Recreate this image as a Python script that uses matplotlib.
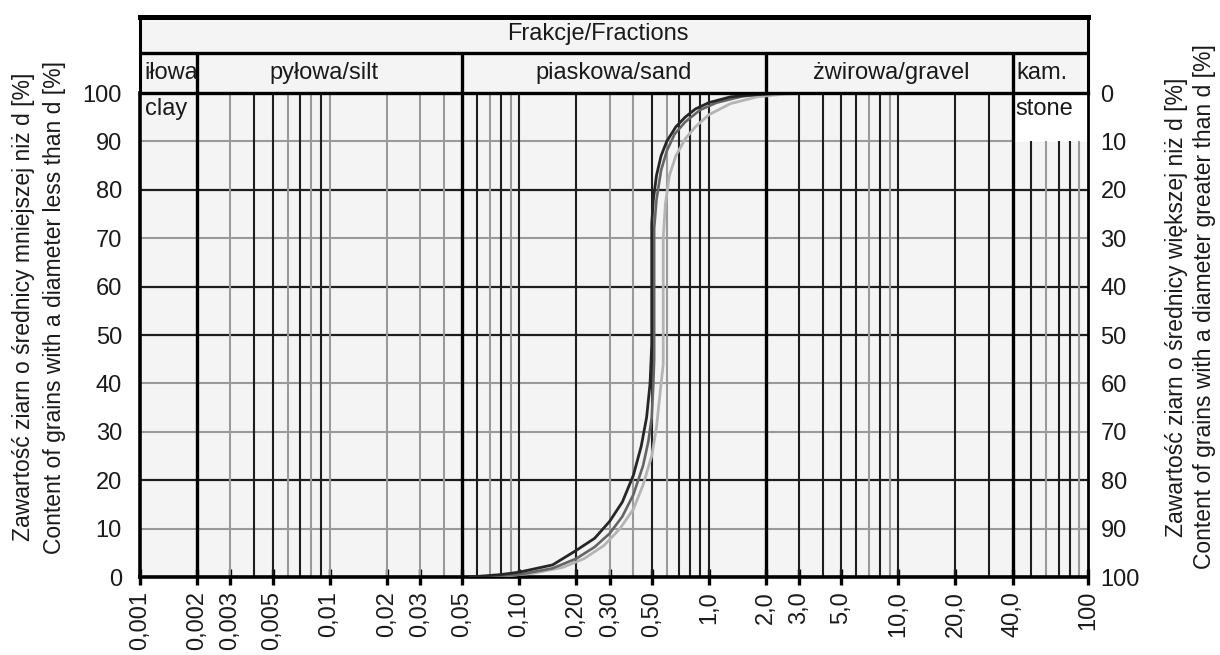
import matplotlib
matplotlib.use('Agg')
import matplotlib.pyplot as plt

plt.rcParams['font.family'] = ['Liberation Sans', 'DejaVu Sans']
plt.rcParams['text.color'] = '#1a1a1a'

# grain size [mm] vs. passing [%], three samples
size_a = [0.055, 0.08, 0.1, 0.15, 0.2, 0.25, 0.3, 0.35, 0.4, 0.44, 0.47, 0.49, 0.5,
          0.5, 0.51, 0.53, 0.56, 0.6, 0.67, 0.75, 0.85, 1.0, 1.3, 1.8, 2.5, 4.5]
pass_a = [0, 0.5, 1.0, 2.5, 5.5, 8, 11.5, 15.5, 21, 27, 33, 40, 48,
          73, 78, 83, 87, 90, 93, 95, 96.7, 98, 99.2, 99.7, 100, 100]

size_b = [0.065, 0.1, 0.15, 0.2, 0.25, 0.3, 0.35, 0.4, 0.45, 0.48, 0.5, 0.51, 0.515,
          0.515, 0.53, 0.56, 0.6, 0.66, 0.75, 0.9, 1.1, 1.5, 2.0, 3.0, 4.5]
pass_b = [0, 0.5, 1.8, 3.8, 6.2, 9, 12.5, 17, 23, 28, 33, 40, 45,
          72, 78, 84, 88, 91.5, 94, 96.5, 98, 99.3, 99.8, 100, 100]

size_c = [0.075, 0.12, 0.17, 0.22, 0.28, 0.34, 0.4, 0.45, 0.5, 0.53, 0.55, 0.575,
          0.575, 0.59, 0.62, 0.67, 0.75, 0.85, 1.0, 1.3, 1.8, 2.5, 4.0]
pass_c = [0, 0.8, 2, 3.8, 6.5, 10, 14, 19, 25, 31, 37, 44,
          70, 77, 83, 87, 90.5, 93, 95.5, 97.8, 99.2, 99.8, 100]

x_ticks = [0.001, 0.002, 0.003, 0.005, 0.01, 0.02, 0.03, 0.05, 0.1, 0.2, 0.3, 0.5,
           1, 2, 3, 5, 10, 20, 40, 100]
x_labels = ['0,001', '0,002', '0,003', '0,005', '0,01', '0,02', '0,03', '0,05', '0,10',
            '0,20', '0,30', '0,50', '1,0', '2,0', '3,0', '5,0', '10,0', '20,0', '40,0', '100']

# fraction boundaries and log paper lines
bounds = [0.002, 0.05, 2, 40]
dark_v = [0.004, 0.005, 0.007, 0.009, 0.06, 0.08, 0.1, 0.2, 0.5, 0.7, 0.8, 0.9, 1.0,
          3, 4, 5, 6, 8, 10, 20, 30]
grey_v = [0.003, 0.006, 0.008, 0.01, 0.02, 0.03, 0.04, 0.07, 0.09, 0.3, 0.4, 0.6, 7, 9]
stone_dark = [50, 70, 80]
stone_grey = [60, 90]
dark_h = [20, 50, 60, 80]
grey_h = [10, 30, 40, 70, 90]

fractions = ['pyłowa/silt', 'piaskowa/sand', 'żwirowa/gravel']
fraction_x = [0.0093, 0.316, 9.2]

W, H = 1220, 655
fig = plt.figure(figsize=(W / 100, H / 100), dpi=100)
fig.patch.set_facecolor('white')

ax = fig.add_axes([140 / W, 1 - 577 / H, 948 / W, 484 / H])
ax.set_facecolor('#f4f4f4')
ax.set_xscale('log')
ax.set_xlim(0.001, 100)
ax.set_ylim(0, 100)

ax.hlines(grey_h, 0.001, 100, colors='#9a9a9a', lw=1.5, zorder=1)
ax.hlines(dark_h, 0.001, 100, colors='#1e1e1e', lw=1.6, zorder=1)
ax.axvspan(40, 100, ymin=0.9, ymax=1.0, color='white', zorder=1.5)
ax.vlines(grey_v, 0, 100, colors='#9a9a9a', lw=1.5, zorder=2)
ax.vlines(dark_v, 0, 100, colors='#1e1e1e', lw=1.5, zorder=2)
ax.vlines(stone_grey, 0, 90, colors='#9a9a9a', lw=1.5, zorder=2)
ax.vlines(stone_dark, 0, 90, colors='#1e1e1e', lw=1.5, zorder=2)
ax.vlines(bounds, 0, 100, colors='black', lw=2.4, zorder=3)

ax.plot(size_c, pass_c, color='#b4b4b4', lw=2.0, zorder=5)
ax.plot(size_b, pass_b, color='#656565', lw=1.9, zorder=6)
ax.plot(size_a, pass_a, color='#262626', lw=2.0, zorder=7)

ax.text(0.00106, 99, 'clay', fontsize=17, ha='left', va='top', zorder=8)
ax.text(41.5, 99, 'stone', fontsize=17, ha='left', va='top', zorder=8)

for side in ['left', 'bottom']:
    ax.spines[side].set_linewidth(2.6)
ax.spines['right'].set_linewidth(2.0)
ax.spines['top'].set_linewidth(2.0)

ax.set_xticks(x_ticks)
ax.set_xticklabels(x_labels)
ax.minorticks_off()
ax.tick_params(axis='x', direction='inout', length=12, width=2.4, pad=4,
               labelrotation=90, labelsize=17, colors='black', labelcolor='#1a1a1a')
ax.set_yticks(range(0, 101, 10))
ax.tick_params(axis='y', length=0, pad=13, labelsize=17, labelcolor='#1a1a1a')

ax2 = ax.twinx()
ax2.set_ylim(100, 0)
ax2.set_yticks(range(0, 101, 10))
ax2.tick_params(axis='y', length=0, pad=9, labelsize=17, labelcolor='#1a1a1a')
for s in ax2.spines.values():
    s.set_visible(False)

# header with fraction names
hax = fig.add_axes([140 / W, 1 - 93 / H, 948 / W, 76 / H])
hax.set_facecolor('#f4f4f4')
hax.set_xscale('log')
hax.set_xlim(0.001, 100)
hax.set_ylim(0, 1)
hax.set_xticks([])
hax.set_yticks([])
hax.minorticks_off()
hax.spines['top'].set_linewidth(3.6)
hax.spines['bottom'].set_linewidth(2.4)
hax.spines['left'].set_linewidth(2.2)
hax.spines['right'].set_linewidth(2.2)
hax.axhline(0.526, color='black', lw=2.4)
hax.vlines(bounds, 0, 0.526, colors='black', lw=2.4)

hax.text(0.26, 0.77, 'Frakcje/Fractions', fontsize=17, ha='center', va='center')
hax.text(0.00106, 0.26, 'iłowa', fontsize=17, ha='left', va='center')
for name, xc in zip(fractions, fraction_x):
    hax.text(xc, 0.26, name, fontsize=17, ha='center', va='center')
hax.text(42, 0.26, 'kam.', fontsize=17, ha='left', va='center')

# axis titles
yc = 1 - 307 / H
fig.text(24 / W, yc, 'Zawartość ziarn o średnicy mniejszej niż d [%]',
         rotation=90, ha='center', va='center', fontsize=16.5)
fig.text(55 / W, yc, 'Content of grains with a diameter less than d [%]',
         rotation=90, ha='center', va='center', fontsize=16.5)
fig.text(1176 / W, yc, 'Zawartość ziarn o średnicy większej niż d [%]',
         rotation=90, ha='center', va='center', fontsize=16.5)
fig.text(1204 / W, yc, 'Content of grains with a diameter greater than d [%]',
         rotation=90, ha='center', va='center', fontsize=16.5)

fig.savefig('out.png', dpi=100)
